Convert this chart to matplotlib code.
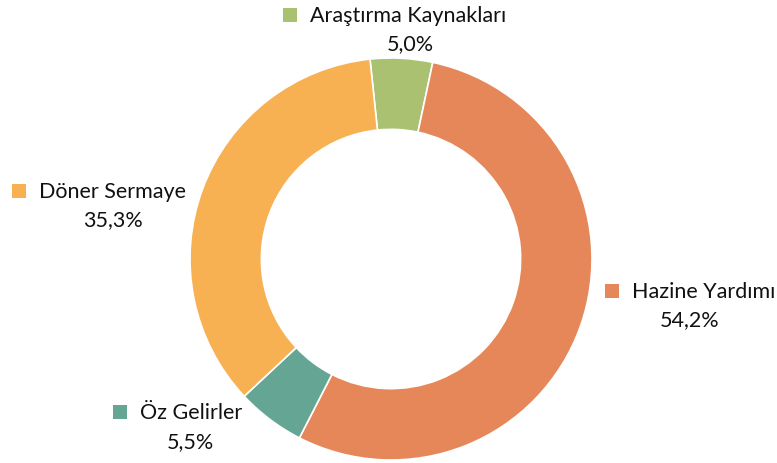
import matplotlib
matplotlib.use("Agg")
import matplotlib.pyplot as plt
from matplotlib.patches import Rectangle

categories = ["Araştırma Kaynakları", "Hazine Yardımı", "Öz Gelirler", "Döner Sermaye"]
values = [5.0, 54.2, 5.5, 35.3]
pct_labels = ["5,0%", "54,2%", "5,5%", "35,3%"]
colors = ["#A9C171", "#E6875A", "#64A594", "#F7B152"]

W, H = 777, 464
fig = plt.figure(figsize=(W / 100, H / 100), dpi=100)
ax = fig.add_axes([0, 0, 1, 1])
ax.set_xlim(0, W)
ax.set_ylim(0, H)
ax.axis("off")

cx, cy, R = 391, H - 260, 201
ax.pie(values, colors=colors, startangle=96, counterclock=False,
       center=(cx, cy), radius=R,
       wedgeprops=dict(width=R * 0.355, edgecolor="white", linewidth=1.2))
ax.set_xlim(0, W)
ax.set_ylim(0, H)

# label positions (pixel coords from top-left): square x, name y, pct center x, pct y
label_pos = [
    (283, 16, 410, 44),
    (605, 292, 690, 320),
    (113, 413, 190, 442),
    (12, 192, 113, 220),
]
fs = 15.5
for (sx, ny, pcx, py), name, pct, col in zip(label_pos, categories, pct_labels, colors):
    ax.add_patch(Rectangle((sx, H - ny - 7), 14, 14, facecolor=col, edgecolor="none"))
    ax.text(sx + 27, H - ny, name, fontsize=fs, family="Lato", va="center", ha="left", color="#111111")
    ax.text(pcx, H - py, pct, fontsize=fs, family="Lato", va="center", ha="center", color="#111111")

fig.savefig("out.png", dpi=100)
